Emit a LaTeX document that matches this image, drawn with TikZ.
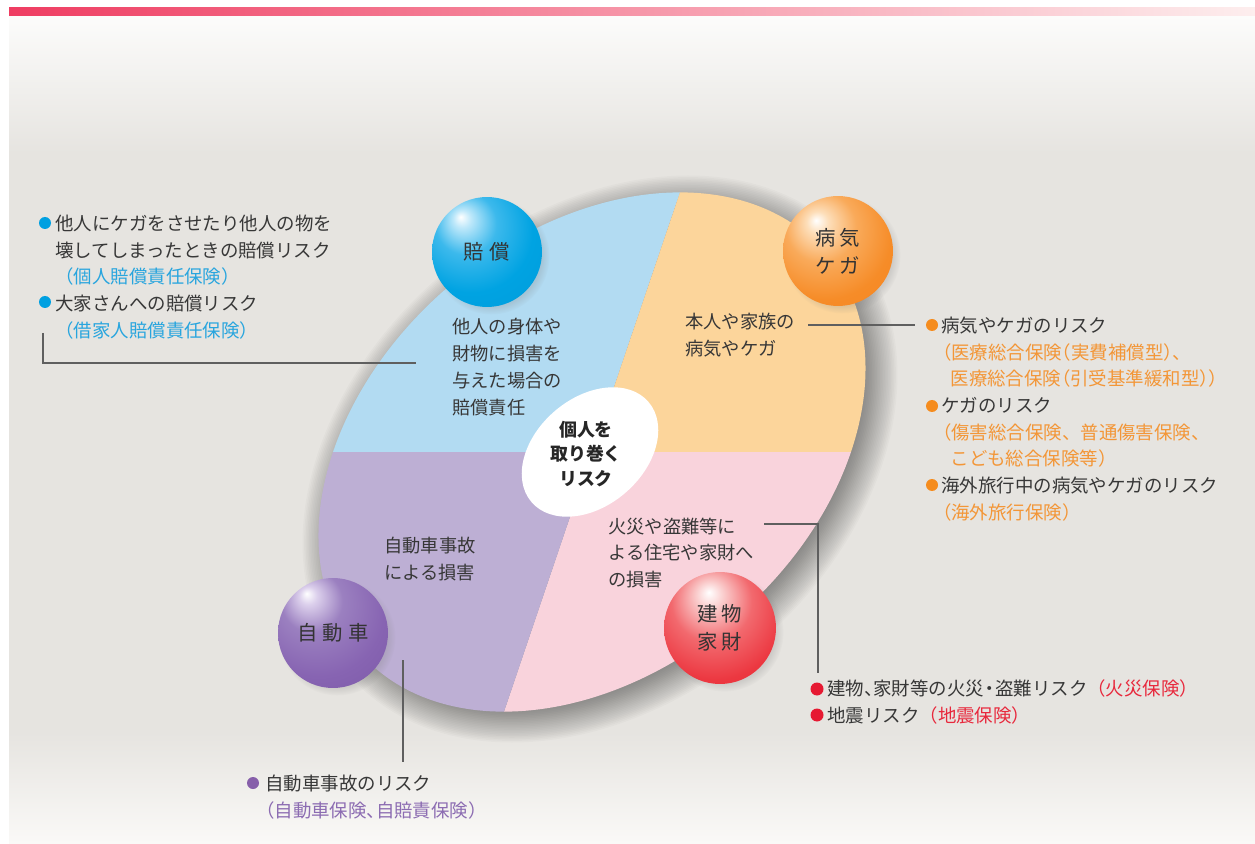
\documentclass[tikz,border=0pt]{standalone}
\usepackage{fontspec}
\setmainfont{Noto Sans CJK JP}
\usetikzlibrary{shadows,fadings}
\definecolor{inkgray}{RGB}{55,55,55}
\definecolor{leadgray}{RGB}{95,95,95}
\definecolor{segblue}{RGB}{178,219,242}
\definecolor{segorange}{RGB}{252,213,155}
\definecolor{segpurple}{RGB}{189,175,212}
\definecolor{segpink}{RGB}{249,211,220}
\definecolor{txtblue}{RGB}{40,165,222}
\definecolor{txtorange}{RGB}{243,150,55}
\definecolor{txtred}{RGB}{232,40,60}
\definecolor{txtpurple}{RGB}{140,108,178}
\definecolor{dotblue}{RGB}{0,160,225}
\definecolor{dotorange}{RGB}{245,140,30}
\definecolor{dotred}{RGB}{230,25,50}
\definecolor{dotpurple}{RGB}{135,95,170}
\definecolor{barred}{RGB}{239,61,98}
\definecolor{barmid}{RGB}{242,108,120}
\definecolor{barfade}{RGB}{253,238,238}
\definecolor{paneltop}{RGB}{252,252,251}
\definecolor{panelgray}{RGB}{230,228,224}
\definecolor{panelbot}{RGB}{250,249,247}
\definecolor{bbhi}{RGB}{190,232,250}
\definecolor{bbmid}{RGB}{60,185,236}
\definecolor{bbbody}{RGB}{0,163,226}
\definecolor{bbedge}{RGB}{0,145,210}
\definecolor{obhi}{RGB}{253,222,185}
\definecolor{obmid}{RGB}{249,170,90}
\definecolor{obbody}{RGB}{246,140,40}
\definecolor{obedge}{RGB}{240,120,20}
\definecolor{pbhi}{RGB}{220,208,236}
\definecolor{pbmid}{RGB}{155,128,192}
\definecolor{pbbody}{RGB}{135,100,178}
\definecolor{pbedge}{RGB}{108,72,152}
\definecolor{rbhi}{RGB}{250,205,205}
\definecolor{rbmid}{RGB}{242,105,110}
\definecolor{rbbody}{RGB}{236,55,64}
\definecolor{rbedge}{RGB}{226,20,35}
\pgfdeclareradialshading{ballblue}{\pgfpoint{-12bp}{16bp}}{color(0bp)=(white); color(4bp)=(bbhi); color(14bp)=(bbmid); color(28bp)=(bbbody); color(70bp)=(bbedge)}
\pgfdeclareradialshading{ballorange}{\pgfpoint{-10bp}{14bp}}{color(0bp)=(white); color(5bp)=(obhi); color(16bp)=(obmid); color(30bp)=(obbody); color(70bp)=(obedge)}
\pgfdeclareradialshading{ballpurple}{\pgfpoint{-12bp}{18bp}}{color(0bp)=(white); color(4bp)=(pbhi); color(14bp)=(pbmid); color(30bp)=(pbbody); color(70bp)=(pbedge)}
\pgfdeclareradialshading{ballred}{\pgfpoint{-5bp}{16bp}}{color(0bp)=(white); color(6bp)=(rbhi); color(18bp)=(rbmid); color(32bp)=(rbbody); color(70bp)=(rbedge)}
% narrow brackets and marks
\newcommand{\nbL}{\makebox[0.5em][r]{（}}
\newcommand{\nbR}{\makebox[0.5em][l]{）}}
\newcommand{\nbC}{\makebox[0.5em][l]{、}}
\newcommand{\nbD}{\makebox[0.6em][c]{・}}

\begin{document}
\begin{tikzpicture}[x=0.02cm,y=0.02cm,
  seg/.style={font=\fontsize{10.4}{15.2}\selectfont, text=inkgray, align=left, anchor=west, inner sep=0pt},
  note/.style={font=\fontsize{10.5}{15.2}\selectfont, text=inkgray, align=left, anchor=west, inner sep=0pt},
  ball/.style={circle, minimum size=2.2cm, inner sep=0pt, text=black!80, align=center,
    font=\fontsize{11.6}{16}\selectfont,
    circular drop shadow={shadow xshift=0.08cm, shadow yshift=-0.08cm, shadow scale=1.06, opacity=0.25}},
  lead/.style={draw=leadgray, line width=0.7pt}]
\useasboundingbox (0,0) rectangle (1255,843);

% Panel and top bar
\fill[panelgray] (9,110) rectangle (1255,690);
\shade[top color=paneltop, bottom color=panelgray] (9,690) rectangle (1255,827);
\shade[top color=panelgray, bottom color=panelbot] (9,0) rectangle (1255,110.5);
\shade[left color=barred, middle color=barmid, right color=barfade] (9,827) rectangle (1255,835);

% Soft shadow of the big ellipse
\coordinate (ctr) at (592,391);
\foreach \k in {1,...,22}
  \fill[black, opacity=0.018, rotate around={40.4:(600,384)}] (600,384) ellipse [x radius=296+1.6*\k, y radius=208+1.6*\k];

% Four risk sectors
\begin{scope}
\clip[rotate around={40.4:(ctr)}] (ctr) ellipse [x radius=307, y radius=219];
\fill[segblue] (ctr) -- (733,807) -- (200,807) -- (200,391) -- cycle;
\fill[segorange] (ctr) -- (733,807) -- (1000,807) -- (1000,391) -- cycle;
\fill[segpink] (ctr) -- (1000,391) -- (1000,-25) -- (451,-25) -- cycle;
\fill[segpurple] (ctr) -- (451,-25) -- (200,-25) -- (200,391) -- cycle;
\end{scope}

% Centre
\fill[white, rotate around={40.5:(590,391)}] (590,391) ellipse [x radius=77, y radius=54];
\node[font=\bfseries\fontsize{10.2}{13.7}\selectfont, text=black!85, align=center] (core) at (586,389) {個人を\\取り巻く\\リスク};

% Sector texts
\node[seg] (bluetxt) at (452,476) {他人の身体や\\財物に損害を\\与えた場合の\\賠償責任};
\node[seg] (orangetxt) at (685,508) {本人や家族の\\病気やケガ};
\node[seg] (purpletxt) at (384,284) {自動車事故\\による損害};
\node[seg] (pinktxt) at (608,290) {火災や盗難等に\\よる住宅や家財へ\\の損害};

% Balls
\node[ball, shading=ballblue] (baisho) at (487,591) {賠\hspace{3pt}償};
\node[ball, shading=ballorange] (byoki) at (838,592) {病\hspace{2pt}気\\ケ\hspace{2pt}ガ};
\node[ball, shading=ballpurple] (jidosha) at (333,210) {自\hspace{3pt}動\hspace{3pt}車};
\node[ball, shading=ballred, minimum size=2.24cm] (tatemono) at (720,215) {建\hspace{2pt}物\\家\hspace{2pt}財};

% Notes
\node[note] (baishonote) at (55,566) {他人にケガをさせたり他人の物を\\壊してしまったときの賠償リスク\\\textcolor{txtblue}{（個人賠償責任保険）}\\大家さんへの賠償リスク\\\textcolor{txtblue}{（借家人賠償責任保険）}};
\fill[dotblue] (45,620) circle (6);
\fill[dotblue] (45,541) circle (6);

\node[note] (byokinote) at (941,424) {病気やケガのリスク\\\hspace{-0.45em}\textcolor{txtorange}{（医療総合保険\nbL 実費補償型\nbR\nbC}\\\hspace{0.5em}\textcolor{txtorange}{医療総合保険\nbL 引受基準緩和型\nbR）}\\ケガのリスク\\\hspace{-0.45em}\textcolor{txtorange}{（傷害総合保険、普通傷害保険、}\\\hspace{0.5em}\textcolor{txtorange}{こども総合保険等）}\\海外旅行中の病気やケガのリスク\\\hspace{-0.45em}\textcolor{txtorange}{（海外旅行保険）}};
\fill[dotorange] (932,518) circle (6);
\fill[dotorange] (932,437) circle (6);
\fill[dotorange] (932,358) circle (6);

\node[note] (tatemononote) at (827,141) {建物\nbC 家財等の火災\nbD 盗難リスク\textcolor{txtred}{（火災保険）}\\地震リスク\textcolor{txtred}{（地震保険）}};
\fill[dotred] (817,154) circle (6.5);
\fill[dotred] (817,128) circle (6.5);

\node[note] (jidoshanote) at (265,46) {自動車事故のリスク\\\hspace{-0.5em}\textcolor{txtpurple}{（自動車保険\nbC 自賠責保険）}};
\fill[dotpurple] (253,60) circle (6);

% Leader lines
\coordinate (baishoA) at (43,510);
\coordinate (baishoB) at (416,480);
\coordinate (byokiA) at (808,518);
\coordinate (byokiB) at (915,518);
\coordinate (tatemonoA) at (764,319);
\coordinate (tatemonoB) at (818,170);
\coordinate (jidoshaA) at (403,183);
\coordinate (jidoshaB) at (403,81);
\draw[lead] (baishoA) |- (baishoB);
\draw[lead] (byokiA) -- (byokiB);
\draw[lead] (tatemonoA) -| (tatemonoB);
\draw[lead] (jidoshaA) -- (jidoshaB);
\end{tikzpicture}
\end{document}
